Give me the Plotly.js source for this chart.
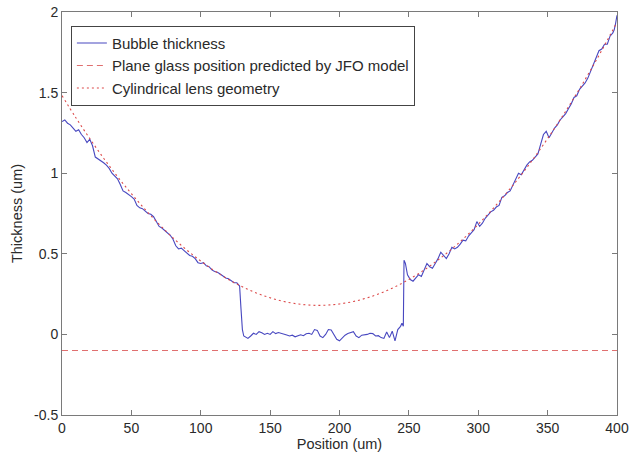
<!DOCTYPE html>
<html>
<head>
<meta charset="utf-8">
<script src="https://cdn.plot.ly/plotly-3.0.1.min.js"></script>
<style>html,body{margin:0;padding:0;background:#fff;}#chart{width:643px;height:452px;}</style>
</head>
<body>
<div id="chart"></div>
<script>
// Bubble thickness (measured), position in um
const bubbleX = [0,2,4,6,8,10,12,14,16,18,20,22,24,26,28,30,32,34,36,38,40,42,44,46,48,50,52,54,56,58,60,62,64,66,68,70,72,74,76,78,80,82,84,86,88,90,92,94,96,98,100,102,104,106,108,110,112,114,116,118,120,122,124,126,128,129,130,131,132,134,136,138,140,142,144,146,148,150,152,154,156,158,160,162,164,166,168,170,172,174,176,178,180,182,184,186,188,190,192,194,196,198,200,202,204,206,208,210,212,214,216,218,220,222,224,226,228,230,232,234,236,238,240,242,244,245,246,246.5,247.5,249,251,253,255,257,259,261,263,265,267,269,271,273,275,277,279,281,283,285,287,289,291,293,295,297,299,301,303,305,307,309,311,313,315,317,319,321,323,325,327,329,331,333,335,337,339,341,343,345,347,349,351,353,355,357,359,361,363,365,367,369,371,373,375,377,379,381,383,385,387,389,391,393,395,397,398,399,400];
const bubbleY = [1.32,1.33,1.31,1.30,1.28,1.26,1.27,1.24,1.22,1.19,1.21,1.17,1.10,1.09,1.08,1.065,1.05,1.03,1.00,0.98,0.965,0.93,0.89,0.88,0.87,0.855,0.84,0.80,0.785,0.78,0.765,0.75,0.745,0.73,0.70,0.67,0.66,0.645,0.63,0.615,0.59,0.55,0.53,0.535,0.52,0.505,0.49,0.485,0.47,0.445,0.44,0.445,0.425,0.42,0.40,0.39,0.385,0.375,0.36,0.35,0.345,0.33,0.32,0.32,0.30,0.16,0.03,-0.01,-0.015,-0.025,-0.01,0.007,0.0,0.017,0.01,0.0,0.007,0.0,0.017,0.005,0.012,0.008,0.0,-0.004,-0.01,-0.005,-0.015,-0.01,-0.002,-0.008,0.004,0.007,0.0,0.03,0.025,-0.01,-0.02,0.0,0.03,0.028,0.0,-0.03,-0.04,-0.02,-0.005,0.005,0.012,0.017,-0.01,-0.02,-0.005,-0.004,0.0,0.007,0.005,-0.01,-0.008,-0.02,-0.025,0.015,-0.02,0.02,-0.04,0.03,0.05,0.07,0.05,0.46,0.44,0.37,0.34,0.33,0.35,0.37,0.36,0.40,0.44,0.42,0.41,0.44,0.47,0.51,0.49,0.47,0.50,0.54,0.53,0.54,0.56,0.585,0.58,0.61,0.63,0.65,0.70,0.67,0.69,0.72,0.74,0.76,0.77,0.79,0.80,0.85,0.86,0.88,0.89,0.93,0.96,1.00,0.99,1.02,1.05,1.07,1.08,1.10,1.12,1.18,1.24,1.26,1.22,1.25,1.28,1.30,1.33,1.35,1.37,1.40,1.43,1.47,1.48,1.52,1.54,1.56,1.59,1.63,1.67,1.72,1.76,1.77,1.80,1.80,1.85,1.87,1.89,1.93,1.98];

// Plane glass position predicted by JFO model
const planeX = [0, 400];
const planeY = [-0.1, -0.1];

// Cylindrical lens geometry
const lensX = [0,10,20,30,40,50,60,70,80,90,100,110,120,130,140,150,160,170,180,190,200,210,220,230,240,250,260,270,280,290,300,310,320,330,340,350,360,370,380,390,400];
const lensY = [1.481,1.344,1.215,1.093,0.979,0.873,0.774,0.683,0.599,0.523,0.455,0.394,0.341,0.295,0.257,0.227,0.204,0.189,0.181,0.181,0.189,0.204,0.227,0.257,0.295,0.341,0.394,0.455,0.523,0.599,0.683,0.774,0.873,0.979,1.093,1.215,1.344,1.481,1.625,1.777,1.937];

// Tick labels
const xTickVals = [0,50,100,150,200,250,300,350,400];
const xTickText = ["0","50","100","150","200","250","300","350","400"];
const yTickVals = [-0.5,0,0.5,1,1.5,2];
const yTickText = ["-0.5","0","0.5","1","1.5","2"];

const FONT = 'Liberation Sans, Arial, sans-serif';
const AX = '#7a7a7a';
const TXT = '#2a2a2a';

const traces = [
  {x: bubbleX, y: bubbleY, type: 'scatter', mode: 'lines', name: 'Bubble thickness',
   line: {color: '#4848c0', width: 1.1}},
  {x: planeX, y: planeY, type: 'scatter', mode: 'lines', name: 'Plane glass position predicted by JFO model',
   line: {color: '#e07070', width: 1.1, dash: '6px,4px'}},
  {x: lensX, y: lensY, type: 'scatter', mode: 'lines', name: 'Cylindrical lens geometry',
   line: {color: '#dc4a4a', width: 1.1, dash: '2px,3px', shape: 'spline'}}
];

const axisCommon = {
  showgrid: false, zeroline: false, showline: true, linecolor: AX, linewidth: 1,
  mirror: 'ticks', ticks: 'inside', ticklen: 5, tickcolor: AX, tickwidth: 1,
  tickfont: {family: FONT, size: 14, color: TXT}
};

const layout = {
  width: 643, height: 452,
  margin: {l: 62, r: 26, t: 12, b: 37, pad: 0},
  paper_bgcolor: '#fff', plot_bgcolor: '#fff',
  font: {family: FONT, size: 14, color: TXT},
  showlegend: true,
  legend: {x: 0.016, y: 0.966, xanchor: 'left', yanchor: 'top', bgcolor: '#fff',
           bordercolor: '#444', borderwidth: 1, font: {family: FONT, size: 15, color: TXT},
           tracegroupgap: 0},
  xaxis: Object.assign({}, axisCommon, {
    range: [0, 400], tickvals: xTickVals, ticktext: xTickText,
    title: {text: 'Position (um)', font: {family: FONT, size: 14.5, color: TXT}, standoff: 2}
  }),
  yaxis: Object.assign({}, axisCommon, {
    range: [-0.5, 2], tickvals: yTickVals, ticktext: yTickText,
    title: {text: 'Thickness (um)', font: {family: FONT, size: 14.5, color: TXT}, standoff: 8}
  })
};

Plotly.newPlot('chart', traces, layout, {displayModeBar: false, staticPlot: true});
</script>
</body>
</html>
